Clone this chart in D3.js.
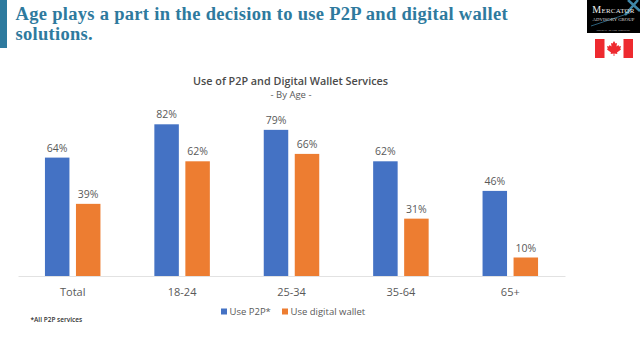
<!DOCTYPE html>
<html>
<head>
<meta charset="utf-8">
<script src="https://cdnjs.cloudflare.com/ajax/libs/d3/7.8.5/d3.min.js"></script>
<style>
  html, body { margin: 0; padding: 0; background: #fff; }
  svg { display: block; }
  .chart-text { font-family: "Open Sans", sans-serif; fill: #595959; }
</style>
</head>
<body>
<div id="chart"></div>
<script>
const categories = ["Total", "18-24", "25-34", "35-64", "65+"];
const p2pValues = [64, 82, 79, 62, 46];
const walletValues = [39, 62, 66, 31, 10];
const seriesNames = ["Use P2P*", "Use digital wallet"];
const seriesColors = ["#4472c4", "#ed7d31"];
const headingLines = ["Age plays a part in the decision to use P2P and digital wallet", "solutions."];

const width = 640, height = 360;
const baseline = 276;

const svg = d3.select("#chart").append("svg")
  .attr("width", width)
  .attr("height", height);

// heading block
svg.append("rect").attr("x", 0).attr("y", 0).attr("width", 7).attr("height", 48).attr("fill", "#2e7a9e");
svg.selectAll(".heading")
  .data(headingLines)
  .enter()
  .append("text")
    .attr("class", "heading")
    .attr("x", 15.5)
    .attr("y", function (d, i) { return 20 + i * 20; })
    .style("font", "bold 18.5px 'Liberation Serif', serif")
    .style("letter-spacing", "0.3px")
    .attr("fill", "#2e7a9e")
    .text(function (d) { return d; });

// logo
const logo = svg.append("g");
logo.append("rect").attr("x", 587).attr("y", 0).attr("width", 53).attr("height", 33).attr("fill", "#000");
logo.append("path").attr("d", "M591 26 L630 13").attr("stroke", "#2b5f7a").attr("stroke-width", 1);
logo.append("path").attr("d", "M628 0 L640 11 M638 0 L625 15").attr("stroke", "#3f87a8").attr("stroke-width", 2.5);
const logoName = logo.append("text").attr("x", 613.5).attr("y", 13).attr("text-anchor", "middle")
  .style("font", "7px 'Liberation Serif', serif").style("letter-spacing", "0.2px").attr("fill", "#eee");
logoName.append("tspan").style("font-size", "10px").text("M");
logoName.append("tspan").text("ERCATOR");
logo.append("text").attr("x", 613.5).attr("y", 20.5).attr("text-anchor", "middle")
  .style("font", "4.8px 'Liberation Serif', serif").attr("fill", "#ddd").text("ADVISORY GROUP");
logo.append("text").attr("x", 613.5).attr("y", 31).attr("text-anchor", "middle")
  .style("font", "2.5px 'Liberation Sans', sans-serif").attr("fill", "#aaa").text("INSIGHT. ADVICE. RESULTS.");

// flag
const flag = svg.append("g");
flag.append("rect").attr("x", 595).attr("y", 39).attr("width", 38).attr("height", 19).attr("fill", "#fff");
flag.append("rect").attr("x", 595).attr("y", 39).attr("width", 9.5).attr("height", 19).attr("fill", "#ee2a2f");
flag.append("rect").attr("x", 623.5).attr("y", 39).attr("width", 9.5).attr("height", 19).attr("fill", "#ee2a2f");
flag.append("path")
  .attr("d", "M614 41 L615.5 43.5 L617 43 L616.5 46.5 L618.5 45 L619 46.5 L621 46 L620.3 48.5 L621 49.5 L617 52.5 L617.4 54 L614.4 53.6 L614.4 56 L613.6 56 L613.6 53.6 L610.6 54 L611 52.5 L607 49.5 L607.7 48.5 L607 46 L609 46.5 L609.5 45 L611.5 46.5 L611 43 L612.5 43.5 Z")
  .attr("fill", "#ee2a2f");

// chart titles
svg.append("text").attr("class", "chart-text")
  .attr("x", 290.5).attr("y", 85).attr("text-anchor", "middle")
  .style("font-size", "10.8px").style("font-weight", 600).style("fill", "#4a4a4a")
  .text("Use of P2P and Digital Wallet Services");
svg.append("text").attr("class", "chart-text")
  .attr("x", 291).attr("y", 98).attr("text-anchor", "middle")
  .style("font-size", "9.5px")
  .text("- By Age -");

// scales
var x = d3.scaleBand()
  .domain(categories)
  .range([18, 565]);
var y = d3.scaleLinear()
  .domain([0, 100])
  .range([baseline, baseline - 185]);
var series = d3.scaleBand()
  .domain(seriesNames)
  .range([0, 55.5])
  .paddingInner(0.21);

const xAxis = svg.append("g")
  .attr("transform", "translate(0," + baseline + ")")
  .call(d3.axisBottom(x).tickSize(0).tickPadding(12));
xAxis.select(".domain").attr("stroke", "#e2e2e2");
xAxis.selectAll("text").attr("class", "chart-text")
  .style("font-size", "11px").style("font-family", "'Open Sans', sans-serif");

// bars + value labels
[p2pValues, walletValues].forEach(function (values, s) {
  const name = seriesNames[s];
  const pos = function (i) {
    return x(categories[i]) + x.bandwidth() / 2 - 27.75 + series(name);
  };
  svg.append("g").selectAll("rect")
    .data(values)
    .enter()
    .append("rect")
      .attr("x", function (d, i) { return pos(i); })
      .attr("y", function (d) { return y(d); })
      .attr("width", series.bandwidth())
      .attr("height", function (d) { return baseline - y(d); })
      .attr("fill", seriesColors[s]);
  svg.append("g").selectAll("text")
    .data(values)
    .enter()
    .append("text")
      .attr("class", "chart-text")
      .attr("x", function (d, i) { return pos(i) + series.bandwidth() / 2; })
      .attr("y", function (d) { return y(d) - 6; })
      .attr("text-anchor", "middle")
      .style("font-size", "10.5px")
      .text(function (d) { return d + "%"; });
});

// legend
const legendX = [221, 282];
seriesNames.forEach(function (name, i) {
  svg.append("rect").attr("x", legendX[i]).attr("y", 308.5).attr("width", 6).attr("height", 6).attr("fill", seriesColors[i]);
  svg.append("text").attr("class", "chart-text")
    .attr("x", legendX[i] + 8.5).attr("y", 315)
    .style("font-size", "9.5px")
    .text(name);
});

// footnote
svg.append("text")
  .attr("x", 30.5).attr("y", 322)
  .style("font", "600 6.5px 'Open Sans', sans-serif")
  .attr("fill", "#333")
  .text("*All P2P services");
</script>
</body>
</html>
